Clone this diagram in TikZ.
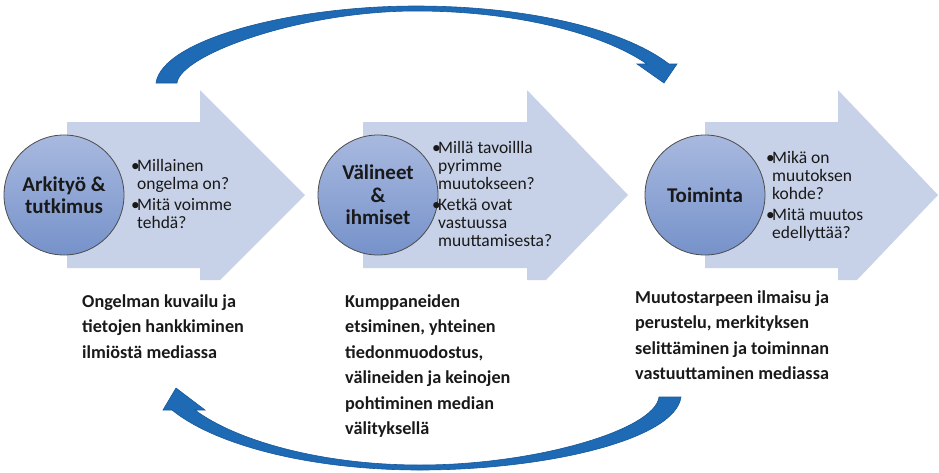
\documentclass[tikz,border=0pt]{standalone}
\usepackage{fontspec}
\setmainfont{Carlito}
\definecolor{arrowfill}{RGB}{199,209,232}
\definecolor{circtop}{RGB}{168,185,223}
\definecolor{circbot}{RGB}{118,146,202}
\definecolor{curvefill}{RGB}{30,106,180}
\definecolor{curveedge}{RGB}{24,88,152}
\definecolor{txt}{RGB}{25,25,25}
\newcommand{\itembul}{\makebox[6pt][l]{•}}
\newcommand{\itemind}{\hspace*{6pt}}
\begin{document}
\begin{tikzpicture}[x=1pt,y=-1pt,
  blockarrow/.style={fill=arrowfill, draw=none},
  stagecircle/.style={circle, minimum size=120pt, inner sep=0pt, draw=black!70, line width=0.8pt,
    top color=circtop, bottom color=circbot, font=\bfseries\fontsize{21}{22.5}\selectfont,
    align=center, text=txt},
  bullets/.style={anchor=base west, inner sep=0pt, align=left, font=\fontsize{17.5}{18.2}\selectfont, text=txt},
  desc/.style={anchor=base west, inner sep=0pt, align=left, font=\bfseries\fontsize{18.2}{25.5}\selectfont, text=txt},
  curvearrow/.style={fill=curvefill, draw=curveedge, line width=0.6pt, line join=miter}]
\useasboundingbox (0,0) rectangle (939,472);

% block arrows
\fill[blockarrow] (67,122) -- (200,122) -- (200,90) -- (305,195) -- (220,280) -- (200,280) -- (200,268) -- (67,268) -- cycle;
\fill[blockarrow] (363,122) -- (527,122) -- (527,90) -- (628,195) -- (546,280) -- (527,280) -- (527,268) -- (363,268) -- cycle;
\fill[blockarrow] (705,122) -- (838,122) -- (838,90) -- (938,195) -- (857,280) -- (838,280) -- (838,268) -- (705,268) -- cycle;

% circles
\node[stagecircle] (c1) at (64,195) {Arkityö \&\\tutkimus};
\node[stagecircle] (c2) at (378,195) {Välineet\\\&\\ihmiset};
\node[stagecircle] (c3) at (705,195) {Toiminta};

% bullet texts (anchor = baseline of the last line)
\node[bullets] (b1) at (131,228.8) {\itembul Millainen\\\itemind ongelma on?\\[2.5pt]\itembul Mitä voimme\\\itemind tehdä?};
\node[bullets] (b2) at (432,246.5) {\itembul Millä tavoillla\\\itemind pyrimme\\\itemind muutokseen?\\[2.5pt]\itembul Ketkä ovat\\\itemind vastuussa\\\itemind muuttamisesta?};
\node[bullets] (b3) at (766,238.3) {\itembul Mikä on\\\itemind muutoksen\\\itemind kohde?\\[2.5pt]\itembul Mitä muutos\\\itemind edellyttää?};

% descriptions (anchor = baseline of the last line)
\node[desc] (d1) at (82,358) {Ongelman kuvailu ja\\tietojen hankkiminen\\ilmiöstä mediassa};
\node[desc] (d2) at (345,434.5) {Kumppaneiden\\etsiminen, yhteinen\\tiedonmuodostus,\\välineiden ja keinojen\\pohtiminen median\\välityksellä};
\node[desc] (d3) at (635,379.5) {Muutostarpeen ilmaisu ja\\perustelu, merkityksen\\selittäminen ja toiminnan\\vastuuttaminen mediassa};

% top curved arrow
\filldraw[curvearrow] (156,83) .. controls (162,40) and (290,6) .. (416,6)
  .. controls (530,6) and (625,30) .. (669,64)
  -- (677,64) -- (664,83) -- (637,64) -- (647,64)
  .. controls (605,35) and (520,11) .. (416,11)
  .. controls (300,11) and (180,55) .. (177,83) -- cycle;

% bottom curved arrow
\filldraw[curvearrow] (681,397) .. controls (675,440) and (545,470) .. (420,470)
  .. controls (310,470) and (215,445) .. (172,410)
  -- (163,410) -- (176,388) -- (205,410) -- (195,410)
  .. controls (235,440) and (320,465) .. (420,465)
  .. controls (535,465) and (655,430) .. (659,397) -- cycle;
\end{tikzpicture}
\end{document}
